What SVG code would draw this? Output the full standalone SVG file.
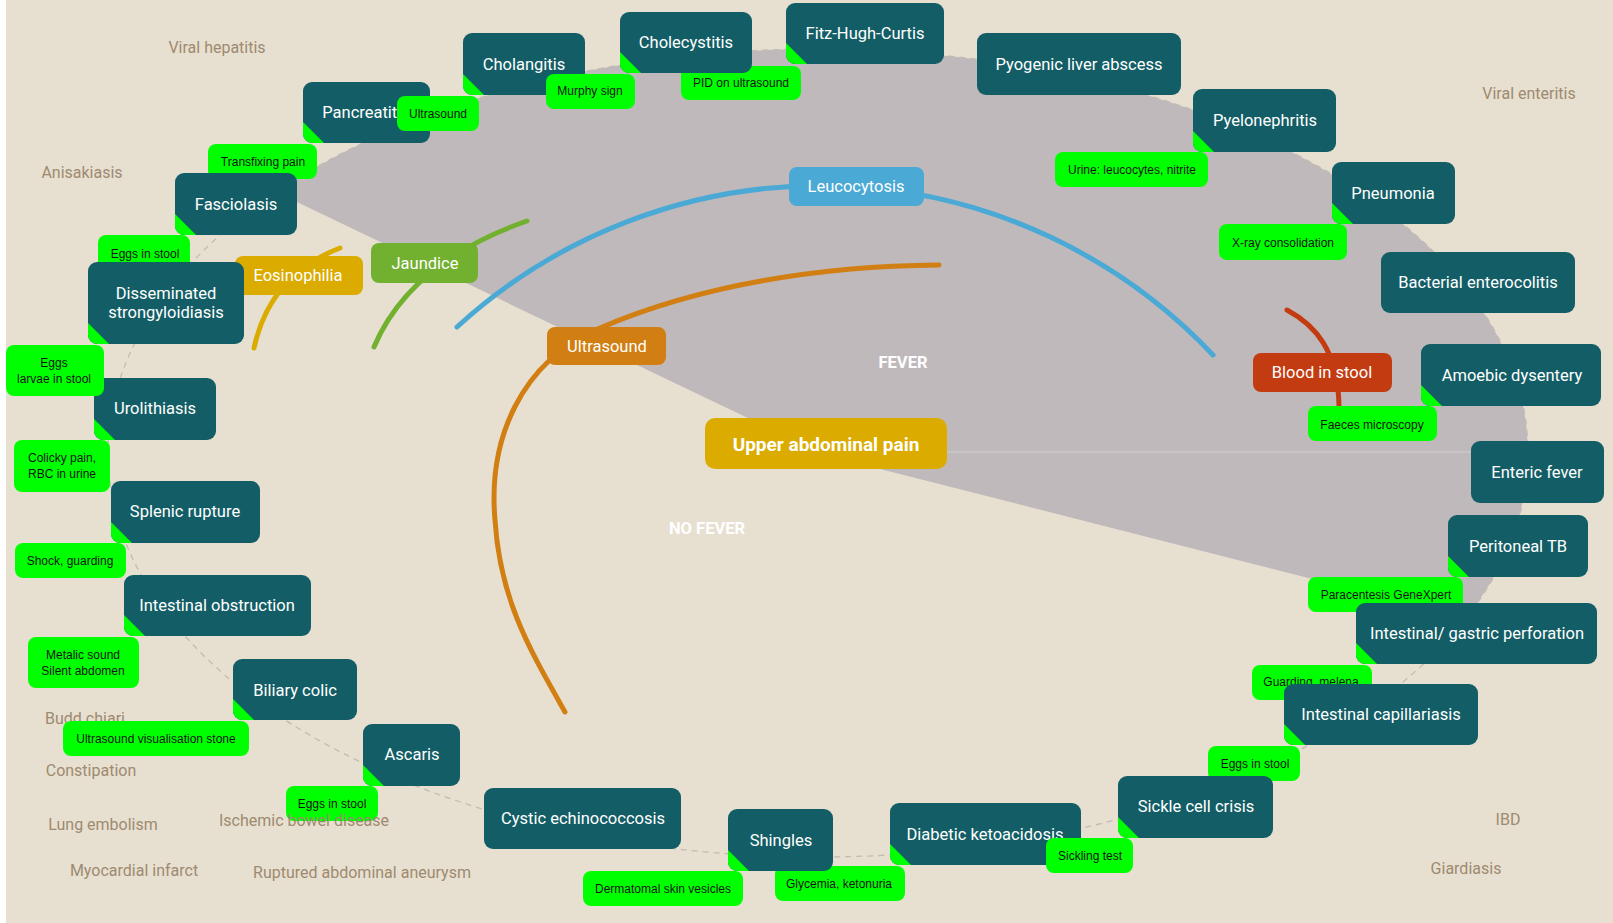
<svg xmlns="http://www.w3.org/2000/svg" width="1613" height="923" viewBox="0 0 1613 923">
<style>
.n rect{fill:#135e66}
.n .c{fill:#00ff00}
.n text{fill:#ffffff;font-family:Roboto,"Liberation Sans",Arial,sans-serif;font-size:16.5px;text-anchor:middle;dominant-baseline:central}
.t rect{fill:#00ff00}
.t text{fill:#151515;font-family:"Liberation Sans",Arial,sans-serif;font-size:12px;text-anchor:middle;dominant-baseline:central}
.k text{fill:#ffffff;font-family:Roboto,"Liberation Sans",Arial,sans-serif;font-size:16.5px;text-anchor:middle;dominant-baseline:central}
.o{fill:#9e8a70;font-family:Roboto,"Liberation Sans",Arial,sans-serif;font-size:16px;text-anchor:middle;dominant-baseline:central}
.arc{fill:none;stroke-width:5;stroke-linecap:round}
.lab{fill:#ffffff;font-family:Roboto,"Liberation Sans",Arial,sans-serif;font-size:16.5px;font-weight:bold;text-anchor:middle;dominant-baseline:central}
</style>
<rect x="0" y="0" width="1613" height="923" fill="#ffffff"/>
<rect x="6" y="0" width="1607" height="923" fill="#e7e0d1"/>
<g id="background">
<path d="M825,455 L276,192 A710,404 0 0 1 1466,618 Z" fill="#bfb9bb"/>
<path d="M825,452 H1528" stroke="#d3cecd" stroke-width="1" fill="none"/>
<ellipse cx="818" cy="453" rx="710" ry="404" fill="none" stroke="#c2bbb2" stroke-width="1.3" stroke-dasharray="6 5"/>
<text class="lab" x="903" y="362">FEVER</text>
<text class="lab" x="707" y="528">NO FEVER</text>
</g>
<g id="connectors">
<path class="arc" stroke="#4aa9d5" d="M457,327 A539,539 0 0 1 1213,355"/>
<path class="arc" stroke="#d17f12" d="M939,265 C820,266 700,285 600,328 C520,362 488,440 495,520 C500,600 530,650 565,712"/>
<path class="arc" stroke="#72b12f" d="M374,347 Q410,262 527,221"/>
<path class="arc" stroke="#dbab00" d="M254,348 Q270,275 340,248"/>
<path class="arc" stroke="#c33b11" d="M1287,310 C1315,325 1338,350 1339,406"/>
</g>
<g id="upper-abdominal-pain" class="k"><rect x="705" y="418" width="242" height="51" rx="10" fill="#dbab00"/><text x="826" y="444" style="font-weight:bold;font-size:19px">Upper abdominal pain</text></g>
<g id="leucocytosis" class="k"><rect x="789" y="167" width="135" height="39" rx="8" fill="#4aa9d5"/><text x="856" y="186">Leucocytosis</text></g>
<g id="ultrasound" class="k"><rect x="547" y="327" width="119" height="38" rx="8" fill="#d17f12"/><text x="607" y="346">Ultrasound</text></g>
<g id="eosinophilia" class="k"><rect x="235" y="256" width="128" height="39" rx="8" fill="#dbab00"/><text x="298" y="275">Eosinophilia</text></g>
<g id="jaundice" class="k"><rect x="371" y="243" width="107" height="40" rx="8" fill="#72b12f"/><text x="425" y="263">Jaundice</text></g>
<g id="blood-in-stool" class="k"><rect x="1253" y="353" width="139" height="39" rx="8" fill="#c33b11"/><text x="1322" y="372">Blood in stool</text></g>
<g id="outer-labels">
<text class="o" x="217" y="47">Viral hepatitis</text>
<text class="o" x="82" y="172">Anisakiasis</text>
<text class="o" x="1529" y="93">Viral enteritis</text>
<text class="o" x="85" y="718">Budd chiari</text>
<text class="o" x="91" y="770">Constipation</text>
<text class="o" x="103" y="824">Lung embolism</text>
<text class="o" x="134" y="870">Myocardial infarct</text>
<text class="o" x="362" y="872">Ruptured abdominal aneurysm</text>
<text class="o" x="1508" y="819">IBD</text>
<text class="o" x="1466" y="868">Giardiasis</text>
</g>
<g id="tag-transfixing" class="t"><rect x="208" y="144" width="109" height="35" rx="8"/><text x="263" y="162">Transfixing pain</text></g>
<g id="tag-eggs-fasciolasis" class="t"><rect x="98" y="235" width="92" height="35" rx="8"/><text x="145" y="254">Eggs in stool</text></g>
<g id="tag-pid" class="t"><rect x="681" y="66" width="120" height="34" rx="8"/><text x="741" y="83">PID on ultrasound</text></g>
<g id="tag-paracentesis" class="t"><rect x="1308" y="577" width="155" height="35" rx="8"/><text x="1386" y="595">Paracentesis GeneXpert</text></g>
<g id="tag-guarding" class="t"><rect x="1252" y="665" width="120" height="35" rx="8"/><text x="1311" y="682">Guarding, melena</text></g>
<g id="tag-eggs-capillariasis" class="t"><rect x="1208" y="746" width="92" height="35" rx="8"/><text x="1255" y="764">Eggs in stool</text></g>
<g id="tag-glycemia" class="t"><rect x="775" y="866" width="130" height="35" rx="8"/><text x="839" y="884">Glycemia, ketonuria</text></g>
<g id="pancreatitis" class="n"><rect x="303" y="82" width="127" height="61" rx="9"/><path class="c" d="M303,122 L324,143 L312,143 A9,9 0 0 1 303,134 Z"/><text x="366" y="112">Pancreatitis</text></g>
<g id="cholangitis" class="n"><rect x="463" y="33" width="122" height="62" rx="9"/><path class="c" d="M463,74 L484,95 L472,95 A9,9 0 0 1 463,86 Z"/><text x="524" y="64">Cholangitis</text></g>
<g id="cholecystitis" class="n"><rect x="620" y="12" width="132" height="61" rx="9"/><path class="c" d="M620,52 L641,73 L629,73 A9,9 0 0 1 620,64 Z"/><text x="686" y="42">Cholecystitis</text></g>
<g id="fitz-hugh-curtis" class="n"><rect x="786" y="3" width="158" height="61" rx="9"/><path class="c" d="M786,43 L807,64 L795,64 A9,9 0 0 1 786,55 Z"/><text x="865" y="33">Fitz-Hugh-Curtis</text></g>
<g id="pyogenic-liver-abscess" class="n"><rect x="977" y="33" width="204" height="62" rx="9"/><text x="1079" y="64">Pyogenic liver abscess</text></g>
<g id="pyelonephritis" class="n"><rect x="1193" y="89" width="143" height="63" rx="9"/><path class="c" d="M1193,131 L1214,152 L1202,152 A9,9 0 0 1 1193,143 Z"/><text x="1265" y="120">Pyelonephritis</text></g>
<g id="pneumonia" class="n"><rect x="1332" y="162" width="123" height="62" rx="9"/><path class="c" d="M1332,203 L1353,224 L1341,224 A9,9 0 0 1 1332,215 Z"/><text x="1393" y="193">Pneumonia</text></g>
<g id="bacterial-enterocolitis" class="n"><rect x="1381" y="252" width="194" height="61" rx="9"/><text x="1478" y="282">Bacterial enterocolitis</text></g>
<g id="amoebic-dysentery" class="n"><rect x="1421" y="344" width="180" height="62" rx="9"/><path class="c" d="M1421,385 L1442,406 L1430,406 A9,9 0 0 1 1421,397 Z"/><text x="1512" y="375">Amoebic dysentery</text></g>
<g id="enteric-fever" class="n"><rect x="1471" y="441" width="133" height="62" rx="9"/><text x="1537" y="472">Enteric fever</text></g>
<g id="peritoneal-tb" class="n"><rect x="1448" y="515" width="140" height="62" rx="9"/><path class="c" d="M1448,556 L1469,577 L1457,577 A9,9 0 0 1 1448,568 Z"/><text x="1518" y="546">Peritoneal TB</text></g>
<g id="intestinal-gastric-perforation" class="n"><rect x="1356" y="603" width="241" height="61" rx="9"/><path class="c" d="M1356,643 L1377,664 L1365,664 A9,9 0 0 1 1356,655 Z"/><text x="1477" y="633">Intestinal/ gastric perforation</text></g>
<g id="intestinal-capillariasis" class="n"><rect x="1284" y="684" width="194" height="61" rx="9"/><path class="c" d="M1284,724 L1305,745 L1293,745 A9,9 0 0 1 1284,736 Z"/><text x="1381" y="714">Intestinal capillariasis</text></g>
<g id="sickle-cell-crisis" class="n"><rect x="1118" y="776" width="155" height="62" rx="9"/><path class="c" d="M1118,817 L1139,838 L1127,838 A9,9 0 0 1 1118,829 Z"/><text x="1196" y="806">Sickle cell crisis</text></g>
<g id="diabetic-ketoacidosis" class="n"><rect x="890" y="803" width="191" height="62" rx="9"/><path class="c" d="M890,844 L911,865 L899,865 A9,9 0 0 1 890,856 Z"/><text x="985" y="834">Diabetic ketoacidosis</text></g>
<g id="shingles" class="n"><rect x="728" y="809" width="105" height="62" rx="9"/><path class="c" d="M728,850 L749,871 L737,871 A9,9 0 0 1 728,862 Z"/><text x="781" y="840">Shingles</text></g>
<g id="cystic-echinococcosis" class="n"><rect x="484" y="788" width="197" height="61" rx="9"/><text x="583" y="818">Cystic echinococcosis</text></g>
<g id="ascaris" class="n"><rect x="363" y="724" width="97" height="62" rx="9"/><path class="c" d="M363,765 L384,786 L372,786 A9,9 0 0 1 363,777 Z"/><text x="412" y="754">Ascaris</text></g>
<g id="biliary-colic" class="n"><rect x="233" y="659" width="124" height="61" rx="9"/><path class="c" d="M233,699 L254,720 L242,720 A9,9 0 0 1 233,711 Z"/><text x="295" y="690">Biliary colic</text></g>
<g id="intestinal-obstruction" class="n"><rect x="124" y="575" width="187" height="61" rx="9"/><path class="c" d="M124,615 L145,636 L133,636 A9,9 0 0 1 124,627 Z"/><text x="217" y="605">Intestinal obstruction</text></g>
<g id="splenic-rupture" class="n"><rect x="111" y="481" width="149" height="62" rx="9"/><path class="c" d="M111,522 L132,543 L120,543 A9,9 0 0 1 111,534 Z"/><text x="185" y="511">Splenic rupture</text></g>
<g id="urolithiasis" class="n"><rect x="94" y="378" width="122" height="62" rx="9"/><path class="c" d="M94,419 L115,440 L103,440 A9,9 0 0 1 94,431 Z"/><text x="155" y="408">Urolithiasis</text></g>
<g id="disseminated-strongyloidiasis" class="n"><rect x="88" y="262" width="156" height="82" rx="9"/><path class="c" d="M88,323 L109,344 L97,344 A9,9 0 0 1 88,335 Z"/><text x="166" y="293">Disseminated</text><text x="166" y="312">strongyloidiasis</text></g>
<g id="fasciolasis" class="n"><rect x="175" y="173" width="122" height="62" rx="9"/><path class="c" d="M175,214 L196,235 L184,235 A9,9 0 0 1 175,226 Z"/><text x="236" y="204">Fasciolasis</text></g>
<g id="tag-ultrasound" class="t"><rect x="397" y="96" width="82" height="35" rx="8"/><text x="438" y="114">Ultrasound</text></g>
<g id="tag-murphy" class="t"><rect x="546" y="74" width="89" height="35" rx="8"/><text x="590" y="91">Murphy sign</text></g>
<g id="tag-urine" class="t"><rect x="1055" y="152" width="153" height="35" rx="8"/><text x="1132" y="170">Urine: leucocytes, nitrite</text></g>
<g id="tag-xray" class="t"><rect x="1219" y="224" width="128" height="36" rx="8"/><text x="1283" y="243">X-ray consolidation</text></g>
<g id="tag-faeces" class="t"><rect x="1308" y="406" width="129" height="35" rx="8"/><text x="1372" y="425">Faeces microscopy</text></g>
<g id="tag-sickling" class="t"><rect x="1046" y="838" width="87" height="35" rx="8"/><text x="1090" y="856">Sickling test</text></g>
<g id="tag-dermatomal" class="t"><rect x="583" y="871" width="160" height="35" rx="8"/><text x="663" y="889">Dermatomal skin vesicles</text></g>
<g id="tag-eggs-ascaris" class="t"><rect x="286" y="786" width="92" height="35" rx="8"/><text x="332" y="804">Eggs in stool</text></g>
<g id="tag-usvis" class="t"><rect x="63" y="721" width="186" height="35" rx="8"/><text x="156" y="739">Ultrasound visualisation stone</text></g>
<g id="tag-metalic" class="t"><rect x="28" y="637" width="111" height="51" rx="8"/><text x="83" y="655">Metalic sound</text><text x="83" y="671">Silent abdomen</text></g>
<g id="tag-shock" class="t"><rect x="15" y="543" width="111" height="35" rx="8"/><text x="70" y="561">Shock, guarding</text></g>
<g id="tag-colicky" class="t"><rect x="14" y="440" width="96" height="52" rx="8"/><text x="62" y="458">Colicky pain,</text><text x="62" y="474">RBC in urine</text></g>
<g id="tag-eggs-larvae" class="t"><rect x="6" y="345" width="98" height="51" rx="8"/><text x="54" y="363">Eggs</text><text x="54" y="379">larvae in stool</text></g>
<text class="o" x="304" y="820">Ischemic bowel disease</text>
</svg>
